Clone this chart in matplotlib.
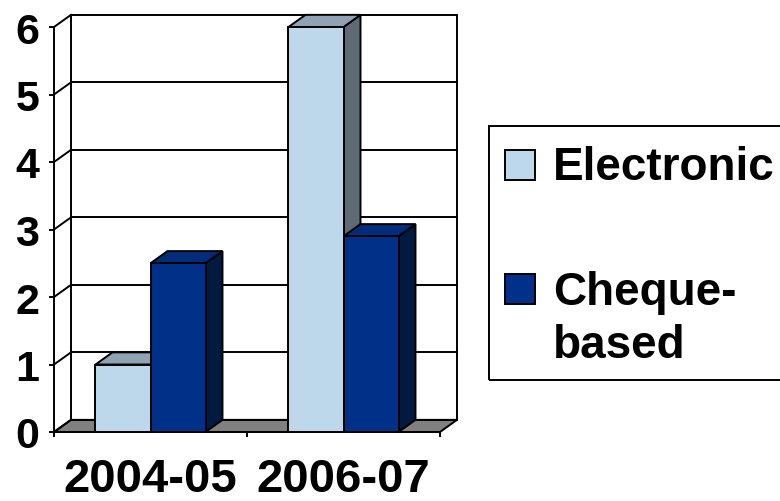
import matplotlib
matplotlib.use("Agg")
import matplotlib.pyplot as plt
from matplotlib.patches import Polygon, Rectangle

categories = ["2004-05", "2006-07"]
electronic = [1.0, 6.0]
cheque = [2.5, 2.9]
series_names = ["Electronic", "Cheque-\nbased"]
y_ticks = [0, 1, 2, 3, 4, 5, 6]

# face colours: front, top, side
light = ("#bdd7eb", "#8fa3b5", "#5e6b76")
dark = ("#003087", "#002c7c", "#001a40")

plt.rcParams["font.family"] = ["Liberation Sans", "DejaVu Sans"]
plt.rcParams["font.weight"] = "bold"

W, H = 780, 502
LW = 1.4
fig = plt.figure(figsize=(W / 100, H / 100), dpi=100)
ax = fig.add_axes([54 / W, (H - 433) / H, 386 / W, 405 / H])
ax.set_xlim(0, 2)
ax.set_ylim(0, 6)
ax.patch.set_visible(False)

# depth of the 3d box, in data units
dx, dy = 0.088, 0.18

# floor
ax.add_patch(Polygon([(0, 0), (2, 0), (2 + dx, dy), (dx, dy)], closed=True,
                     fc="#808080", ec="black", lw=LW, clip_on=False, zorder=1))

# back wall grid and side wall diagonals
for k in y_ticks:
    ax.plot([dx, 2 + dx], [k + dy, k + dy], color="black", lw=LW, clip_on=False, zorder=1)
    ax.plot([0, dx], [k, k + dy], color="black", lw=LW, clip_on=False, zorder=1)
for xv in (dx, 2 + dx):
    ax.plot([xv, xv], [dy, y_ticks[-1] + dy], color="black", lw=LW, clip_on=False, zorder=1)


def box(x, w, h, cols, z):
    front = Rectangle((x, 0), w, h, fc=cols[0], ec="black", lw=LW, clip_on=False, zorder=z)
    top = Polygon([(x, h), (x + w, h), (x + w + dx, h + dy), (x + dx, h + dy)],
                  closed=True, fc=cols[1], ec="black", lw=LW, clip_on=False, zorder=z)
    side = Polygon([(x + w, 0), (x + w + dx, dy), (x + w + dx, h + dy), (x + w, h)],
                   closed=True, fc=cols[2], ec="black", lw=LW, clip_on=False, zorder=z)
    for p in (side, top, front):
        ax.add_patch(p)


bw = 0.285
z = 3
for i in range(len(categories)):
    x0 = i + 0.5 - bw
    box(x0, bw, electronic[i], light, z)
    box(x0 + bw, bw, cheque[i], dark, z + 1)
    z += 2

for s in ("top", "right"):
    ax.spines[s].set_visible(False)
for s in ("left", "bottom"):
    ax.spines[s].set_linewidth(LW)
    ax.spines[s].set_zorder(10)

ax.set_yticks(y_ticks)
ax.tick_params(axis="y", length=3.6, width=LW, pad=7, labelsize=31)
ax.set_xticks([0, 1, 2])
ax.set_xticklabels([])
ax.tick_params(axis="x", which="major", length=3.6, width=LW)
ax.set_xticks([i + 0.5 for i in range(len(categories))], minor=True)
ax.set_xticklabels(categories, minor=True)
ax.tick_params(axis="x", which="minor", length=0, pad=18, labelsize=34)

# legend
fig.add_artist(Rectangle((489 / W, (H - 381) / H), 320 / W, 254 / H, transform=fig.transFigure,
                         fill=False, ec="black", lw=LW))
legend_rows = [(151, 180), (275, 305)]
for name, cols, (top_px, base_px) in zip(series_names, (light, dark), legend_rows):
    fig.add_artist(Rectangle((505 / W, (H - top_px - 30) / H), 30 / W, 30 / H,
                             transform=fig.transFigure, fc=cols[0], ec="black", lw=LW))
    for j, line in enumerate(name.split("\n")):
        fig.text(553 / W, (H - base_px - 53 * j) / H, line, fontsize=33,
                 va="baseline", ha="left")

fig.savefig("out.png", dpi=100, facecolor="white")
